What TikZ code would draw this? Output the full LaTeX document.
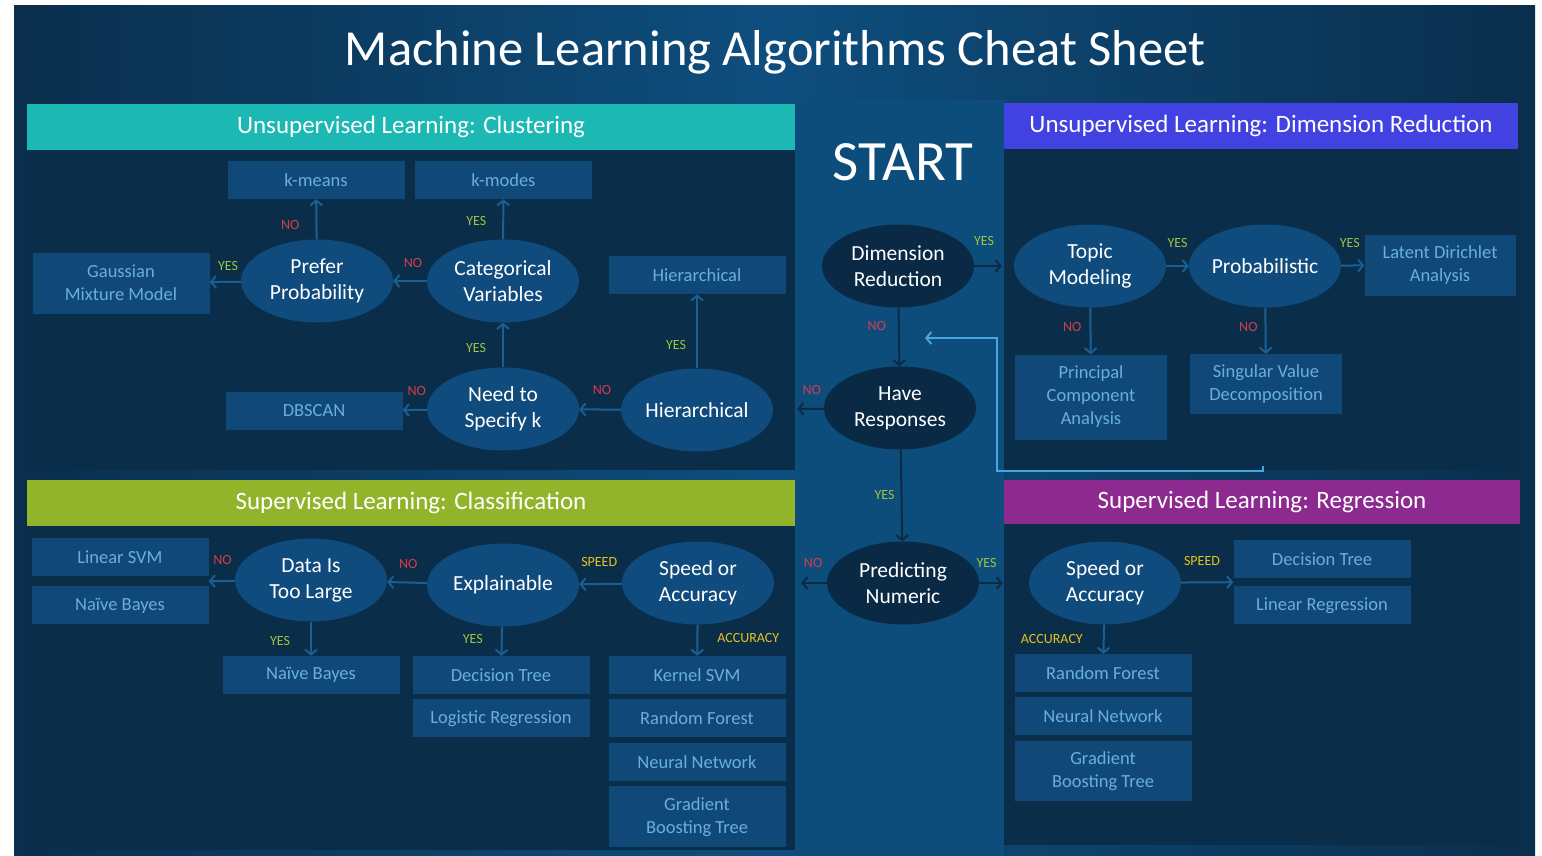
\documentclass[tikz,border=0pt]{standalone}
\usepackage{fontspec}
\setmainfont{Carlito}
\usepackage{tikz}
\usetikzlibrary{positioning,shapes.geometric,arrows.meta,calc}

\definecolor{bgdark}{HTML}{0A2E4C}
\definecolor{bgmid}{HTML}{0E4E7E}
\definecolor{colblue}{HTML}{0D4D7B}
\definecolor{panelnavy}{HTML}{0A2D4A}
\definecolor{ellblue}{HTML}{0F4B7C}
\definecolor{ellnavy}{HTML}{0A2945}
\definecolor{boxblue}{HTML}{104977}
\definecolor{boxtext}{HTML}{6AAEE0}
\definecolor{arrblue}{HTML}{1B5E92}
\definecolor{arrnavy}{HTML}{0A2A46}
\definecolor{fbblue}{HTML}{45A6E2}
\definecolor{hteal}{HTML}{1BB8B4}
\definecolor{hviolet}{HTML}{4242E3}
\definecolor{hlime}{HTML}{92B42A}
\definecolor{hmagenta}{HTML}{8D2A90}
\definecolor{yescol}{HTML}{9CC43C}
\definecolor{nocol}{HTML}{D83C4A}
\definecolor{spdcol}{HTML}{E8C21C}

\begin{document}
\begin{tikzpicture}[x=1pt,y=-1pt,
  dec/.style={ellipse,fill=ellblue,text=white,minimum width=152pt,minimum height=83pt,inner sep=0pt,align=center,font=\fontsize{21.5}{26}\selectfont},
  cdec/.style={dec,fill=ellnavy},
  algo/.style={rectangle,fill=boxblue,text=boxtext,minimum width=177pt,minimum height=38pt,inner sep=2pt,align=center,font=\fontsize{18.5}{23}\selectfont},
  hdr/.style={rectangle,text=white,minimum height=46pt,inner sep=0pt,font=\fontsize{25}{25}\selectfont},
  arr/.style={draw=arrblue,line width=2pt,-{Straight Barb[length=5pt,width=12pt]}},
  carr/.style={arr,draw=arrnavy},
  fbline/.style={arr,draw=fbblue},
  ylab/.style={text=yescol,inner sep=0pt,font=\fontsize{14}{14}\selectfont},
  nlab/.style={ylab,text=nocol},
  slab/.style={ylab,text=spdcol},
  node distance=5pt]
\useasboundingbox (0,0) rectangle (1542,856);

% background and panels
\fill[white] (0,0) rectangle (1542,856);
\shade[left color=bgdark,right color=bgdark,middle color=bgmid] (14,6) rectangle (1535,856);
\fill[colblue] (795,100) rectangle (1004,856);
\fill[panelnavy] (27,150) rectangle (795,470);
\fill[panelnavy] (1004,149) rectangle (1518,470);
\fill[panelnavy] (27,526) rectangle (795,850);
\fill[panelnavy] (1004,524) rectangle (1520,845);

\node[text=white,font=\fontsize{50.5}{50.5}\selectfont] (title) at (775,52) {Machine Learning Algorithms Cheat Sheet};
\node[text=white,font=\fontsize{57}{57}\selectfont] (start) at (903,162) {START};

\node[hdr,fill=hteal,minimum width=768pt] (hclu) at (411,127) {Unsupervised Learning: Clustering};
\node[hdr,fill=hviolet,minimum width=514pt] (hdim) at (1261,126) {Unsupervised Learning: Dimension Reduction};
\node[hdr,fill=hlime,minimum width=768pt] (hcls) at (411,503) {Supervised Learning: Classification};
\node[hdr,fill=hmagenta,minimum width=516pt,minimum height=44pt] (hreg) at (1262,502) {Supervised Learning: Regression};

% clustering
\node[dec] (pp) at (317,281) {Prefer\\Probability};
\node[dec] (cv) at (503,281) {Categorical\\Variables};
\node[dec] (nsk) at (503,409) {Need to\\Specify k};
\node[dec] (hier) at (697,410) {Hierarchical};
\node[algo] (kmeans) at (316,180) {k-means};
\node[algo,right=10pt of kmeans] (kmodes) {k-modes};
\node[algo,minimum height=61pt] (gmm) at (121,283) {Gaussian\\Mixture Model};
\node[algo] (hbox) at (697,275) {Hierarchical};
\node[algo] (dbscan) at (314,411) {DBSCAN};

% dimension reduction
\node[cdec] (dr) at (898,266) {Dimension\\Reduction};
\node[dec] (tm) at (1090,266) {Topic\\Modeling};
\node[dec] (prob) at (1265,266) {Probabilistic};
\node[algo,minimum width=151pt,minimum height=61pt] (lda) at (1440,265) {Latent Dirichlet\\Analysis};
\node[algo,minimum width=152pt,minimum height=85pt] (pca) at (1091,397) {Principal\\Component\\Analysis};
\node[algo,minimum width=152pt,minimum height=60pt] (svd) at (1266,384) {Singular Value\\Decomposition};

% center column
\node[cdec] (hr) at (900,408) {Have\\Responses};
\node[cdec] (pn) at (903,583) {Predicting\\Numeric};

% classification
\node[dec] (dtl) at (311,580) {Data Is\\Too Large};
\node[dec] (expl) at (503,585) {Explainable};
\node[dec] (sac) at (698,583) {Speed or\\Accuracy};
\node[algo] (lsvm) at (120,557) {Linear SVM};
\node[algo,below=10pt of lsvm] (nbl) {Naïve Bayes};
\node[algo] (nbb) at (311,675) {Naïve Bayes};
\node[algo] (dtc) at (501,675) {Decision Tree};
\node[algo,below=of dtc] (lrc) {Logistic Regression};
\node[algo] (ksvm) at (697,675) {Kernel SVM};
\node[algo,below=of ksvm] (rfc) {Random Forest};
\node[algo,below=of rfc] (nnc) {Neural Network};
\node[algo,minimum height=61pt,below=of nnc] (gbc) {Gradient\\Boosting Tree};

% regression
\node[dec] (sar) at (1105,583) {Speed or\\Accuracy};
\node[algo] (dtr) at (1322,559) {Decision Tree};
\node[algo,below=8pt of dtr] (lrr) {Linear Regression};
\node[algo] (rfr) at (1103,673) {Random Forest};
\node[algo,below=of rfr] (nnr) {Neural Network};
\node[algo,minimum height=60pt,below=of nnr] (gbr) {Gradient\\Boosting Tree};

\coordinate (clsgap) at ($(lsvm.south east)!0.5!(nbl.north east)$);
\coordinate (reggap) at ($(dtr.south west)!0.5!(lrr.north west)$);
\coordinate (fbstart) at (1263,466);
\coordinate (fbturn) at (997,471);
\coordinate (fbend) at (925,338);

% connectors
\draw[arr] (pp) -- (kmeans) node[nlab,pos=0.36,left=16pt] (l1) {NO};
\draw[arr] (cv) -- (kmodes) node[ylab,pos=0.46,left=16pt] (l2) {YES};
\draw[arr] (pp) -- (gmm) node[ylab,pos=0.41,above=10pt] (l3) {YES};
\draw[arr] (cv) -- (pp) node[nlab,pos=0.41,above=12pt] (l4) {NO};
\draw[arr] (nsk) -- (cv) node[ylab,pos=0.43,left=16pt] (l5) {YES};
\draw[arr] (nsk) -- (dbscan) node[nlab,pos=0.42,above=13pt] (l6) {NO};
\draw[arr] (hier) -- (nsk) node[nlab,pos=0.45,above=14pt] (l7) {NO};
\draw[arr] (hier) -- (hbox) node[ylab,pos=0.32,left=10pt] (l8) {YES};
\draw[carr,shorten >=24pt] (hr) -- (hier) node[nlab,pos=0.24,above=13pt] (l9) {NO};

\draw[carr,shorten >=12pt] (dr) -- (tm) node[ylab,pos=0.25,above=19pt] (l10) {YES};
\draw[arr] (tm) -- (prob) node[ylab,pos=0.5,above=17pt] (l11) {YES};
\draw[arr] (prob) -- (lda) node[ylab,pos=0.37,above=17pt] (l12) {YES};
\draw[arr] (tm) -- (pca) node[nlab,pos=0.42,left=8pt] (l13) {NO};
\draw[arr] (prob) -- (svd) node[nlab,pos=0.42,left=7pt] (l14) {NO};
\draw[carr] (dr) -- (hr) node[nlab,pos=0.31,left=12pt] (l15) {NO};
\draw[fbline] (fbstart) |- (fbturn) |- (fbend);

\draw[carr] (hr) -- (pn) node[ylab,pos=0.5,left=6pt] (l16) {YES};
\draw[carr,shorten >=27pt] (pn) -- (sac) node[nlab,pos=0.26,above=14pt] (l17) {NO};
\draw[carr,shorten >=26pt] (pn) -- (sar) node[ylab,pos=0.15,above=14pt] (l18) {YES};

\draw[arr] (sac) -- (expl) node[slab,pos=0.53,above=16pt] (l19) {SPEED};
\draw[arr] (sac) -- (ksvm) node[slab,pos=0.43,right=19pt] (l20) {ACCURACY};
\draw[arr] (expl) -- (dtl) node[nlab,pos=0.47,above=13pt] (l21) {NO};
\draw[arr] (dtl) -- (clsgap) node[nlab,pos=0.47,above=15pt] (l22) {NO};
\draw[arr] (dtl) -- (nbb) node[ylab,pos=0.56,left=20pt] (l23) {YES};
\draw[arr] (expl) -- (dtc) node[ylab,pos=0.42,left=18pt] (l24) {YES};

\draw[arr] (sar) -- (reggap) node[slab,pos=0.4,above=16pt] (l25) {SPEED};
\draw[arr] (sar) -- (rfr) node[slab,pos=0.49,left=20pt] (l26) {ACCURACY};
\end{tikzpicture}
\end{document}
